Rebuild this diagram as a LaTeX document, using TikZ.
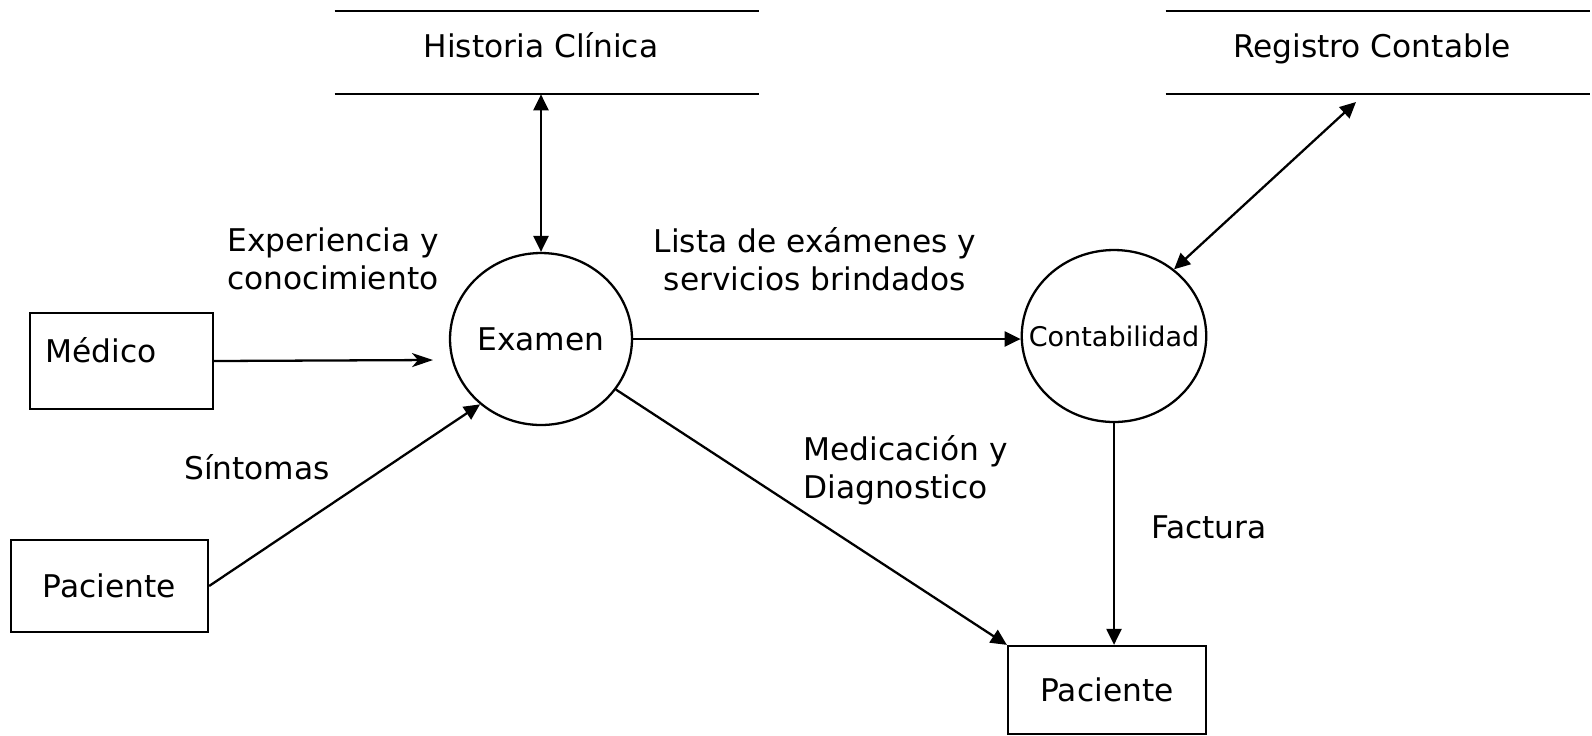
\documentclass[tikz,border=0pt]{standalone}
\usepackage{fontspec}
\setmainfont{DejaVu Sans}
\usetikzlibrary{arrows.meta, shapes.geometric, positioning, calc}
\newcommand{\dfdfont}{\fontsize{17.8}{21.5}\selectfont}
\newcommand{\dfdsmall}{\fontsize{15.4}{18}\selectfont}
\tikzset{
    boxnode/.style = {draw, rectangle, line width=1.3pt, inner sep=0em, font=\dfdfont},
    circlenode/.style = {draw, ellipse, line width=1.3pt, inner sep=0em,
      minimum width=3.64cm, minimum height=3.44cm, font=\dfdfont},
    storenode/.style = {draw=none, rectangle, inner sep=0em, minimum width=8.48cm, minimum height=1.66cm},
    storeline/.style = {line width=1.3pt},
    textnode/.style = {draw=none, fill=none, rectangle, inner sep=0em, font=\dfdfont, align=center},
    connect/.style = {line width=1.3pt, -{Triangle[length=0.32cm, width=0.3cm]}},
    twoway/.style = {line width=1.3pt, {Triangle[length=0.32cm, width=0.3cm]}-{Triangle[length=0.32cm, width=0.3cm]}}
}

\begin{document}
\begin{tikzpicture}[x=0.02cm, y=-0.02cm]
    \useasboundingbox (0,0) rectangle (1592,735);
    % almacenes
    \node [storenode, name=HC] at (547,52.5) {};
    \node [textnode, name=HCtext] at ($(HC.center)+(-6,-7)$) {Historia Clínica};
    \draw [storeline] (HC.north west) -- (HC.north east) (HC.south west) -- (HC.south east);
    \node [storenode, name=RC] at (1378,52.5) {};
    \node [textnode, name=RCtext] at ($(RC.center)+(-6,-4)$) {Registro Contable};
    \draw [storeline] (RC.north west) -- (RC.north east) (RC.south west) -- (RC.south east);

    % procesos
    \node [circlenode, name=Examen] at (541,339) {Examen};
    \node [circlenode, name=Contab, font=\dfdsmall, inner xsep=-0.4cm] at (1114,336) {Contabilidad};

    % entidades
    \node [boxnode, name=Medico, minimum width=3.66cm, minimum height=1.92cm] at (121.5,361) {};
    \node [textnode, name=Medicotext] at (101,350) {Médico};
    \node [boxnode, name=Pac1, minimum width=3.94cm, minimum height=1.84cm] at (109.5,586) {Paciente};
    \node [boxnode, name=Pac2, minimum width=3.96cm, minimum height=1.76cm] at (1107,690) {Paciente};

    % flujos
    \coordinate (medicoend) at (433,360);
    \draw [line width=1.3pt, -{Stealth[length=0.42cm, width=0.28cm, inset=0.12cm]}] (Medico.east) -- (medicoend);
    \draw [connect] (Pac1.east) -- (Examen.227);
    \draw [twoway] (Examen.north) -- (Examen.north |- HC.south);
    \draw [connect] (Examen.east) -- (Examen.east -| Contab.west);
    \draw [connect] (Examen.326) -- (Pac2.north west);
    \coordinate (rcend) at (1356,102);
    \draw [twoway] (Contab.48) -- (rcend);
    \draw [connect] (Contab.south) -- (Contab.south |- Pac2.north);

    \node [textnode, name=exper] at (333,259) {Experiencia y\\conocimiento};
    \node [textnode, name=lista] at (815,259) {Lista de exámenes y\\servicios brindados};
    \node [textnode, name=sintomas] at (257,467) {Síntomas};
    \node [textnode, name=medic, anchor=west, align=left] at (803,470) {Medicación y\\Diagnostico};
    \node [textnode, name=factura] at (1209,527) {Factura};
\end{tikzpicture}
\end{document}
